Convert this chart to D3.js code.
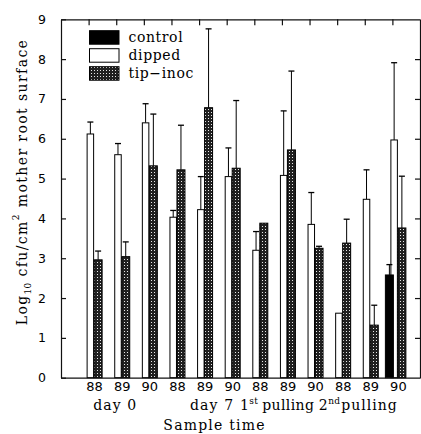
<!DOCTYPE html>
<html><head><meta charset="utf-8">
<script src="https://cdn.jsdelivr.net/npm/d3@7"></script>
<style>
html,body{margin:0;padding:0;background:#fff;overflow:hidden;}
svg{display:block;}
</style></head>
<body>
<script>
// ---- data ----
const groupLabels = ["88","89","90","88","89","90","88","89","90","88","89","90"];
const periodLabels = ["day 0","day 7","1st pulling","2nd pulling"];
const control    = [null,null,null,null,null,null,null,null,null,null,null,2.58];
const controlErr = [0,0,0,0,0,0,0,0,0,0,0,0.26];
const dipped     = [6.12,5.60,6.40,4.03,4.22,5.05,3.20,5.08,3.85,1.62,4.48,5.97];
const dippedErr  = [0.30,0.28,0.48,0.17,0.83,0.72,0.47,1.62,0.80,0,0.74,1.94];
const tipInoc    = [2.96,3.04,5.32,5.22,6.78,5.26,3.88,5.72,3.25,3.38,1.32,3.76];
const tipInocErr = [0.22,0.37,1.30,1.12,1.98,1.70,0,1.98,0.05,0.60,0.50,1.30];
const yTicks = [0,1,2,3,4,5,6,7,8,9];
const legendLabels = ["control","dipped","tip\u2212inoc"];

(function(){
const W = 421, H = 434;
const svg = d3.select("body").append("svg").attr("width", W).attr("height", H);

const defs = svg.append("defs");
const pat = defs.append("pattern").attr("id","dots").attr("patternUnits","userSpaceOnUse")
  .attr("width",3).attr("height",3);
pat.append("rect").attr("width",3).attr("height",3).attr("fill","#202020");
pat.append("rect").attr("x",1).attr("y",1).attr("width",1).attr("height",1).attr("fill","#e8e8e8");

const mL = 61, mR = 420, mT = 19.3, mB = 377.7;
const x = d3.scaleLinear().domain([0,13]).range([mL,mR]);
const y = d3.scaleLinear().domain([0,9]).range([mB,mT]);
const idx = d3.range(12);

const serif = "'DejaVu Serif', serif";
const sans = "'DejaVu Sans', sans-serif";

// bars
const series = [
  {vals: dipped, err: dippedErr, off: -1.5, w: 6.5, fill: "#fff"},
  {vals: control, err: controlErr, off: -7, w: 8, fill: "#000"},
  {vals: tipInoc, err: tipInocErr, off: 5.5, w: 8, fill: "url(#dots)"}
];
const gb = svg.append("g");
series.forEach(s => {
  const data = idx.filter(i => s.vals[i] != null).map(i => ({i, v: s.vals[i], e: s.err[i]}));
  data.filter(d => d.e > 0).forEach(d => {
    const cx = x(d.i+1) + s.off + s.w/2;
    gb.append("line").attr("x1",cx).attr("x2",cx).attr("y1",y(d.v)).attr("y2",y(d.v+d.e))
      .attr("stroke","#000").attr("stroke-width",1);
    gb.append("line").attr("x1",cx-3).attr("x2",cx+3).attr("y1",y(d.v+d.e)).attr("y2",y(d.v+d.e))
      .attr("stroke","#000").attr("stroke-width",1.3);
  });
  gb.selectAll(null).data(data).enter().append("rect")
    .attr("x", d => x(d.i+1) + s.off)
    .attr("width", s.w)
    .attr("y", d => y(d.v))
    .attr("height", d => y(0) - y(d.v))
    .attr("fill", s.fill).attr("stroke","#000").attr("stroke-width",1);
});

// axes
const axL = svg.append("g").attr("transform",`translate(${mL},0)`)
  .call(d3.axisLeft(y).tickValues(yTicks).tickSizeInner(-5).tickSizeOuter(0).tickPadding(15));
const axR = svg.append("g").attr("transform",`translate(${mR},0)`)
  .call(d3.axisRight(y).tickValues(yTicks.slice(1,9)).tickSizeInner(-5).tickSizeOuter(0).tickFormat(""));
const axT = svg.append("g").attr("transform",`translate(0,${mT})`)
  .call(d3.axisTop(x).tickValues(d3.range(1,13)).tickSizeInner(-6).tickSizeOuter(0).tickFormat(""));
const axB = svg.append("g").attr("transform",`translate(0,${mB})`)
  .call(d3.axisBottom(x).tickValues(d3.range(1,13)).tickSize(0).tickPadding(4)
    .tickFormat((d,i) => groupLabels[i]));
[axL,axR,axT,axB].forEach(a => {
  a.selectAll("path,line").attr("stroke","#111").attr("stroke-width",1.2);
  a.selectAll("text").attr("fill","#000");
});
axL.selectAll("text").style("font-family",sans).style("font-size","12.5px");
axB.selectAll("text").style("font-family",sans).style("font-size","13px").attr("dx",5.5).attr("y",4).attr("dy","0.71em");

// period labels (left-anchored, placed relative to each period's middle group)
const periodOffsets = [-23, -9, -42, -46];
const gp = svg.append("g").style("font-family",serif).style("font-size","14px")
  .style("letter-spacing","1.1px").attr("fill","#000");
periodLabels.forEach((lab,k) => {
  const cx = x(k*3+2) + periodOffsets[k];
  const t = gp.append("text").attr("x",cx).attr("y",410).attr("text-anchor","start");
  const m = lab.match(/^(\d)(st|nd) (.*)$/);
  if (m) {
    t.append("tspan").text(m[1]).style("letter-spacing","0.5px");
    t.append("tspan").text(m[2]).attr("dy",-6).style("font-size","9px").style("letter-spacing","0.3px");
    t.append("tspan").text(m[3]).attr("dy",6).attr("dx", m[2]==="st" ? 4 : 1)
      .style("letter-spacing", m[2]==="st" ? "0.4px" : "1px");
  } else t.text(lab);
});
svg.append("text").attr("x",(mL+mR)/2 - 26).attr("y",430).attr("text-anchor","middle")
  .style("font-family",serif).style("font-size","14px").style("letter-spacing","1.2px").text("Sample time");

// y title
const yt = svg.append("text").attr("transform",`translate(27,182) rotate(-90)`)
  .attr("text-anchor","middle").style("font-family",serif).style("font-size","14px")
  .style("letter-spacing","1.4px");
yt.append("tspan").text("Log");
yt.append("tspan").text("10").style("font-size","9px").style("letter-spacing","0.3px").attr("dy",4);
yt.append("tspan").text(" cfu/cm").attr("dy",-4);
yt.append("tspan").text("2").style("font-size","9px").attr("dy",-8);
yt.append("tspan").text(" mother root surface").attr("dy",8);

// legend
const legFills = ["#000","#fff","url(#dots)"];
const lg = svg.append("g");
legendLabels.forEach((lab,k) => {
  const yy = 30.7 + k*18;
  lg.append("rect").attr("x",89.5).attr("y",yy).attr("width",29.5).attr("height",13.5)
    .attr("fill",legFills[k]).attr("stroke","#000").attr("stroke-width",1);
  lg.append("text").attr("x",128.5).attr("y",yy+11).style("font-family",serif).style("font-size","14px")
    .style("letter-spacing","0.6px").text(lab);
});
})();
</script>
</body></html>
